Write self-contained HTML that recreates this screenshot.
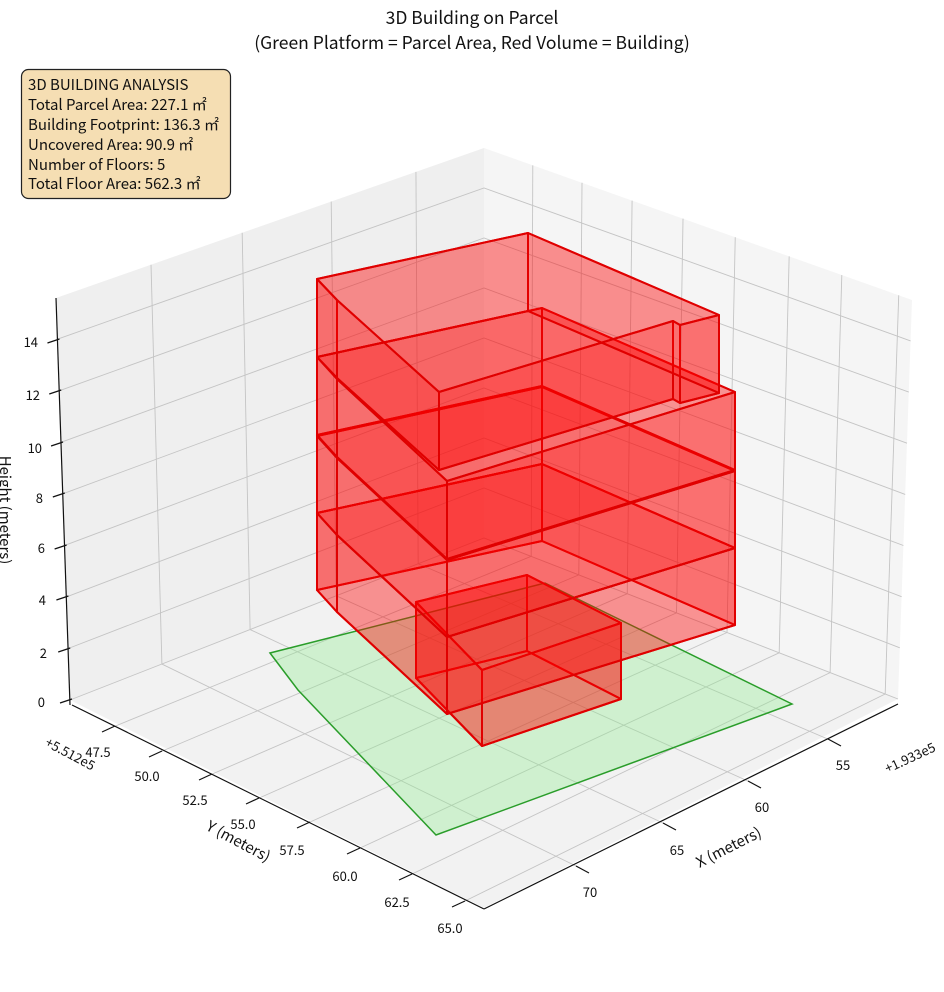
<!DOCTYPE html>
<html><head><meta charset="utf-8"><style>
html,body{margin:0;padding:0;background:#fff;}
svg{display:block;font-family:"Noto Sans CJK JP","Liberation Sans",sans-serif;}
</style></head><body>
<svg id="s" width="944" height="992" viewBox="0 0 944 992" xmlns="http://www.w3.org/2000/svg">
<text x="472" y="24" font-size="17.5" text-anchor="middle" fill="#111">3D Building on Parcel</text>
<text x="472" y="49" font-size="17.5" text-anchor="middle" fill="#111">(Green Platform = Parcel Area, Red Volume = Building)</text>
<g id="g"></g>
<rect x="21.5" y="69.5" width="209" height="129" rx="7" fill="#f5deb3" stroke="#222" stroke-width="1.2"/>
<g font-size="15" fill="#111">
<text x="28" y="90">3D BUILDING ANALYSIS</text>
<text x="28" y="110">Total Parcel Area: 227.1 ㎡</text>
<text x="28" y="130">Building Footprint: 136.3 ㎡</text>
<text x="28" y="150">Uncovered Area: 90.9 ㎡</text>
<text x="28" y="170">Number of Floors: 5</text>
<text x="28" y="189">Total Floor Area: 562.3 ㎡</text>
</g>
<g font-size="13" fill="#111">
<text x="45" y="707" text-anchor="end">0</text>
<text x="47" y="658" text-anchor="end">2</text>
<text x="46" y="605" text-anchor="end">4</text>
<text x="45" y="553" text-anchor="end">6</text>
<text x="43" y="503" text-anchor="end">8</text>
<text x="42" y="453" text-anchor="end">10</text>
<text x="40" y="400" text-anchor="end">12</text>
<text x="38" y="347" text-anchor="end">14</text>
<text x="98" y="757" text-anchor="middle">47.5</text>
<text x="147" y="781" text-anchor="middle">50.0</text>
<text x="195" y="805" text-anchor="middle">52.5</text>
<text x="243" y="829" text-anchor="middle">55.0</text>
<text x="292" y="855" text-anchor="middle">57.5</text>
<text x="345" y="881" text-anchor="middle">60.0</text>
<text x="397" y="907" text-anchor="middle">62.5</text>
<text x="450" y="933" text-anchor="middle">65.0</text>
<text x="843" y="770" text-anchor="middle">55</text>
<text x="762" y="812" text-anchor="middle">60</text>
<text x="677" y="855" text-anchor="middle">65</text>
<text x="590" y="897" text-anchor="middle">70</text>
<text transform="translate(68,758) rotate(28)" text-anchor="middle">+5.512e5</text>
<text transform="translate(912,762) rotate(-25)" text-anchor="middle">+1.933e5</text>
</g>
<text transform="translate(236,846) rotate(28)" text-anchor="middle" font-size="15" fill="#111">Y (meters)</text>
<text transform="translate(731,852) rotate(-27)" text-anchor="middle" font-size="15" fill="#111">X (meters)</text>
<text transform="translate(0,510) rotate(90)" text-anchor="middle" font-size="15" fill="#111">Height (meters)</text>
</svg>
<script>
var g=document.getElementById('g');var NS='http://www.w3.org/2000/svg';
function el(t,a){var e=document.createElementNS(NS,t);for(var k in a)e.setAttribute(k,a[k]);g.appendChild(e);return e;}
function P(pts){return pts.map(function(p){return p[0].toFixed(1)+','+p[1].toFixed(1)}).join(' ');}
function L(a,b,t){return [a[0]+(b[0]-a[0])*t,a[1]+(b[1]-a[1])*t];}
var LB=[70,700],LT=[56,298],BB=[484,538],BT=[484,148],RB=[898,699],RT=[912,300],FR=[484,908];
el('polygon',{points:P([LB,LT,BT,BB]),fill:'#efefef'});
el('polygon',{points:P([BB,BT,RT,RB]),fill:'#f5f5f5'});
el('polygon',{points:P([LB,BB,RB,FR]),fill:'#f2f2f2'});
var gc={stroke:'#c4c4c4','stroke-width':0.9,fill:'none'};
function line(a,b,o){var e=el('line',{x1:a[0],y1:a[1],x2:b[0],y2:b[1]});for(var k in o)e.setAttribute(k,o[k]);}
var H=15.6;
for(var z=0;z<=14;z+=2){var t=z/H;var l=L(LB,LT,t),b=L(BB,BT,t),r=L(RB,RT,t);
 el('polyline',{points:P([l,b,r]),stroke:'#c4c4c4','stroke-width':0.9,fill:'none'});}
var lf=[0.222,0.435,0.643,0.841];
var xt=[[578,867],[665,824],[750,782],[830,740]];
for(var i=0;i<4;i++){var bt=L(LB,BB,lf[i]),tp=L(LT,BT,lf[i]);line(bt,tp,gc);line(bt,xt[i],gc);}
var rf=[0.114,0.229,0.346,0.465,0.587,0.713,0.836,0.969];
var yt=[[113,727],[160,752],[210,775],[257,799],[308,823],[358,849],[410,875],[463,902]];
for(var i=0;i<8;i++){var bt=L(BB,RB,rf[i]),tp=L(BT,RT,rf[i]);line(bt,tp,gc);line(bt,yt[i],gc);}
var ax={stroke:'#111','stroke-width':1.2};
line([70,705],[56,298],ax);line([72,705],[484,909],ax);line([484,909],[898,704],ax);
var zy=[700,649,597,546,494,443,391,340];
for(var i=0;i<8;i++){var x=70-14*(700-zy[i])/402;line([x-10,zy[i]+3],[x+2,zy[i]-1],ax);}
yt.forEach(function(p){line([p[0]-11,p[1]+5],[p[0]+2,p[1]-1],ax);});
xt.forEach(function(p){line([p[0]-2,p[1]-1],[p[0]+11,p[1]+6],ax);});
el('polygon',{points:P([[270,653],[298,690],[436,835],[792,704],[545,583]]),fill:'rgba(144,238,144,0.35)',stroke:'#2a9d2a','stroke-width':1.5});
function prism(T,h,ops,opt){
 var B=T.map(function(p){return [p[0],p[1]+h]});var n=T.length;
 function st(o){return {fill:'rgba(255,0,0,'+o+')',stroke:'#e00000','stroke-width':2,'stroke-linejoin':'round'};}
 el('polygon',Object.assign({points:P(B)},st(opt)));
 for(var i=0;i<n;i++){var j=(i+1)%n;el('polygon',Object.assign({points:P([T[i],T[j],B[j],B[i]])},st(ops)));}
 el('polygon',Object.assign({points:P(T)},st(opt)));
}
prism([[416,602],[527,575],[621,623],[482,670]],76,0.3,0.2);
function up(y){return [[317,y],[542,y-49],[735,y+35],[447,y+124],[337,y+22]];}
prism(up(513),77,0.32,0.12);
prism(up(436),77,0.32,0.12);
prism(up(357),78,0.32,0.12);
prism([[317,279],[337,300],[439,392],[673,321],[680,325],[719,315],[528,233]],78,0.32,0.15);
</script>
</body></html>
